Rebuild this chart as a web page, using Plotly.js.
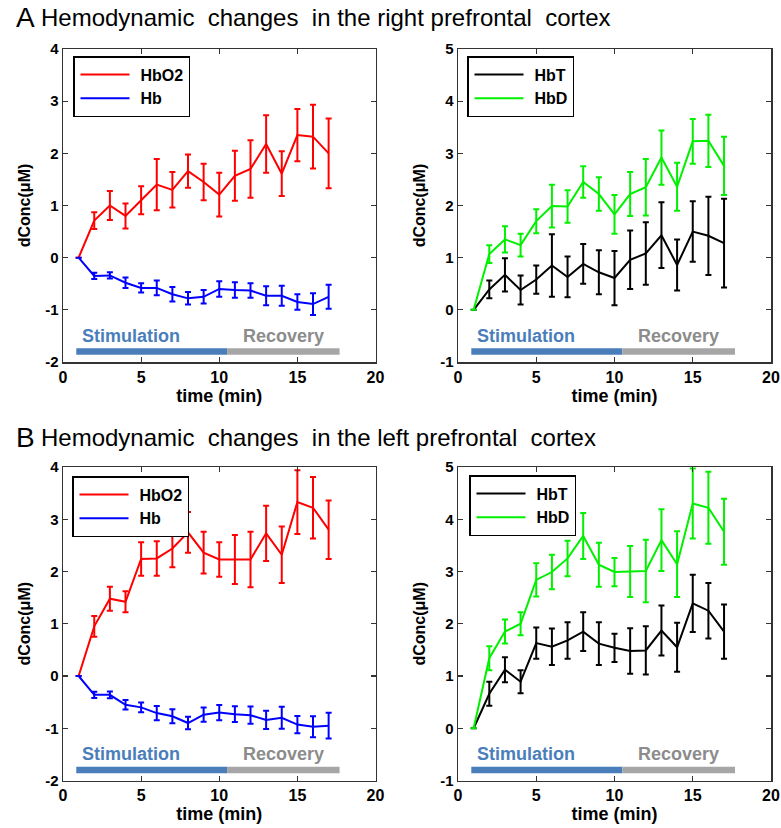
<!DOCTYPE html>
<html>
<head>
<meta charset="utf-8">
<script src="https://cdn.plot.ly/plotly-3.0.1.min.js"></script>
<style>html,body{margin:0;padding:0;background:#fff;}#chart{width:781px;height:828px;}</style>
</head>
<body>
<div id="chart"></div>
<script>
// ---------- data ----------
const time = [1,2,3,4,5,6,7,8,9,10,11,12,13,14,15,16,17];

// A: right prefrontal cortex
const hbo2Right    = [0, 0.71, 1.00, 0.80, 1.10, 1.40, 1.30, 1.66, 1.45, 1.21, 1.57, 1.70, 2.18, 1.61, 2.35, 2.32, 2.00];
const hbo2RightErr = [0, 0.16, 0.28, 0.24, 0.27, 0.49, 0.34, 0.32, 0.35, 0.42, 0.48, 0.55, 0.55, 0.43, 0.50, 0.61, 0.67];
const hbRight      = [0, -0.35, -0.34, -0.48, -0.58, -0.58, -0.70, -0.78, -0.75, -0.60, -0.62, -0.63, -0.73, -0.73, -0.85, -0.89, -0.75];
const hbRightErr   = [0, 0.06, 0.06, 0.10, 0.09, 0.14, 0.14, 0.12, 0.13, 0.15, 0.15, 0.14, 0.18, 0.19, 0.15, 0.21, 0.23];
const hbtRight     = [0, 0.39, 0.67, 0.38, 0.58, 0.85, 0.63, 0.88, 0.72, 0.61, 0.96, 1.08, 1.43, 0.86, 1.50, 1.42, 1.28];
const hbtRightErr  = [0, 0.17, 0.32, 0.28, 0.27, 0.60, 0.39, 0.38, 0.42, 0.52, 0.56, 0.60, 0.63, 0.49, 0.58, 0.75, 0.85];
const hbdRight     = [0, 1.07, 1.35, 1.24, 1.70, 1.99, 1.98, 2.45, 2.22, 1.83, 2.22, 2.35, 2.92, 2.36, 3.23, 3.24, 2.76];
const hbdRightErr  = [0, 0.17, 0.25, 0.22, 0.23, 0.41, 0.31, 0.30, 0.32, 0.37, 0.42, 0.54, 0.52, 0.46, 0.43, 0.50, 0.56];

// B: left prefrontal cortex
const hbo2Left     = [0, 0.95, 1.48, 1.42, 2.24, 2.25, 2.44, 2.75, 2.36, 2.23, 2.23, 2.23, 2.73, 2.32, 3.33, 3.22, 2.80];
const hbo2LeftErr  = [0, 0.20, 0.23, 0.20, 0.32, 0.33, 0.36, 0.39, 0.40, 0.33, 0.47, 0.53, 0.53, 0.54, 0.61, 0.59, 0.56];
const hbLeft       = [0, -0.36, -0.36, -0.55, -0.60, -0.71, -0.77, -0.90, -0.74, -0.70, -0.73, -0.75, -0.84, -0.80, -0.93, -0.97, -0.95];
const hbLeftErr    = [0, 0.06, 0.065, 0.09, 0.095, 0.135, 0.135, 0.12, 0.135, 0.145, 0.15, 0.165, 0.175, 0.21, 0.165, 0.20, 0.245];
const hbtLeft      = [0, 0.66, 1.12, 0.89, 1.63, 1.56, 1.68, 1.85, 1.62, 1.54, 1.48, 1.49, 1.87, 1.55, 2.39, 2.25, 1.85];
const hbtLeftErr   = [0, 0.23, 0.24, 0.22, 0.30, 0.35, 0.35, 0.37, 0.41, 0.27, 0.435, 0.46, 0.48, 0.47, 0.55, 0.53, 0.52];
const hbdLeft      = [0, 1.34, 1.85, 2.00, 2.84, 2.99, 3.25, 3.68, 3.13, 2.99, 3.00, 3.01, 3.60, 3.14, 4.30, 4.22, 3.76];
const hbdLeftErr   = [0, 0.23, 0.23, 0.22, 0.32, 0.33, 0.34, 0.44, 0.42, 0.27, 0.49, 0.60, 0.59, 0.63, 0.67, 0.69, 0.63];

// phases
const phaseNames = ['Stimulation', 'Recovery'];
const phaseStart = [0.85, 10.5];
const phaseEnd   = [10.5, 17.7];

// ticks
const xTicks = [0, 5, 10, 15, 20];
const yTicksLeft = [-2, -1, 0, 1, 2, 3, 4];
const yTicksRight = [-1, 0, 1, 2, 3, 4, 5];

const panelTitles = ['Hemodynamic  changes  in the right prefrontal  cortex',
                     'Hemodynamic  changes  in the left prefrontal  cortex'];
const panelLetters = ['A', 'B'];

// ---------- styling ----------
const FONT = 'Liberation Sans, Arial, Helvetica, sans-serif';
const W = 781, H = 828;
const phaseColors = ['#4a7ebb', '#a6a6a6'];
const phaseTextColors = ['#4a7ebb', '#8c8c8c'];
const GREEN = '#00f000';

function px2x(p){ return p / W; }
function px2y(p){ return 1 - p / H; }

const xDomL = [px2x(63), px2x(375.5)];
const xDomR = [px2x(458), px2x(771)];
const yDomA = [px2y(362), px2y(49)];
const yDomB = [px2y(780.5), px2y(467)];

function trace(y, err, name, color, xa, ya, legend){
  return {
    x: time, y: y, name: name, type: 'scatter', mode: 'lines',
    xaxis: xa, yaxis: ya, legend: legend,
    line: {color: color, width: 2},
    error_y: {type: 'data', array: err, visible: true, color: color, thickness: 2, width: 3}
  };
}

const data = [
  trace(hbo2Right, hbo2RightErr, 'HbO2', '#ff0000', 'x', 'y', 'legend'),
  trace(hbRight, hbRightErr, 'Hb', '#0000ff', 'x', 'y', 'legend'),
  trace(hbtRight, hbtRightErr, 'HbT', '#000000', 'x2', 'y2', 'legend2'),
  trace(hbdRight, hbdRightErr, 'HbD', GREEN, 'x2', 'y2', 'legend2'),
  trace(hbo2Left, hbo2LeftErr, 'HbO2', '#ff0000', 'x3', 'y3', 'legend3'),
  trace(hbLeft, hbLeftErr, 'Hb', '#0000ff', 'x3', 'y3', 'legend3'),
  trace(hbtLeft, hbtLeftErr, 'HbT', '#000000', 'x4', 'y4', 'legend4'),
  trace(hbdLeft, hbdLeftErr, 'HbD', GREEN, 'x4', 'y4', 'legend4')
];

function xAxis(domain, anchor){
  return {
    domain: domain, anchor: anchor, range: [0, 20],
    tickvals: xTicks, ticktext: xTicks.map(String),
    ticks: 'inside', ticklen: 5, tickwidth: 1.2, tickcolor: '#333',
    showline: true, linecolor: '#333', linewidth: 1.5, mirror: 'allticks',
    showgrid: false, zeroline: false,
    tickfont: {family: FONT, size: 16, weight: 'bold', color: '#000'},
    title: {text: 'time (min)', standoff: 4, font: {family: FONT, size: 18, weight: 'bold', color: '#000'}}
  };
}
function yAxis(domain, anchor, ticks){
  return {
    domain: domain, anchor: anchor, range: [ticks[0], ticks[ticks.length - 1]],
    tickvals: ticks, ticktext: ticks.map(String),
    ticks: 'inside', ticklen: 5, tickwidth: 1.2, tickcolor: '#333',
    showline: true, linecolor: '#333', linewidth: 1.5, mirror: 'allticks',
    showgrid: false, zeroline: false,
    tickfont: {family: FONT, size: 15, weight: 'bold', color: '#000'},
    title: {text: 'dConc(μM)', standoff: 10, font: {family: FONT, size: 16, weight: 'bold', color: '#000'}}
  };
}
function legendAt(xp, yp){
  return {
    x: px2x(xp), y: px2y(yp), xanchor: 'left', yanchor: 'top',
    bgcolor: '#fff', bordercolor: '#000', borderwidth: 1.5,
    traceorder: 'normal', itemwidth: 56,
    font: {family: FONT, size: 16, weight: 'bold', color: '#000'}
  };
}

const shapes = [];
const annotations = [];
const panels = [
  {xref: 'x', yref: 'y', base: -2},
  {xref: 'x2', yref: 'y2', base: -1},
  {xref: 'x3', yref: 'y3', base: -2},
  {xref: 'x4', yref: 'y4', base: -1}
];
panels.forEach(p => {
  phaseNames.forEach((nm, i) => {
    shapes.push({type: 'rect', xref: p.xref, yref: p.yref,
      x0: phaseStart[i], x1: phaseEnd[i], y0: p.base + 0.14, y1: p.base + 0.265,
      fillcolor: phaseColors[i], line: {width: 0}, layer: 'above'});
    annotations.push({xref: p.xref, yref: p.yref,
      x: (phaseStart[i] + phaseEnd[i]) / 2 + (i === 0 ? -1.3 : 0), y: p.base + 0.5,
      text: nm, showarrow: false, xanchor: 'center', yanchor: 'middle',
      font: {family: FONT, size: 18, weight: 'bold', color: phaseTextColors[i]}});
  });
});
[18, 437].forEach((yy, k) => {
  annotations.push({xref: 'paper', yref: 'paper', x: px2x(14), y: px2y(yy),
    xanchor: 'left', yanchor: 'middle', showarrow: false, text: panelLetters[k],
    font: {family: FONT, size: 28, color: '#000'}});
  annotations.push({xref: 'paper', yref: 'paper', x: px2x(39), y: px2y(yy),
    xanchor: 'left', yanchor: 'middle', showarrow: false, text: panelTitles[k],
    font: {family: FONT, size: 24, color: '#000'}});
});

const layout = {
  width: W, height: H,
  margin: {l: 0, r: 0, t: 0, b: 0},
  paper_bgcolor: '#fff', plot_bgcolor: '#fff',
  showlegend: true,
  xaxis: xAxis(xDomL, 'y'), yaxis: yAxis(yDomA, 'x', yTicksLeft),
  xaxis2: xAxis(xDomR, 'y2'), yaxis2: yAxis(yDomA, 'x2', yTicksRight),
  xaxis3: xAxis(xDomL, 'y3'), yaxis3: yAxis(yDomB, 'x3', yTicksLeft),
  xaxis4: xAxis(xDomR, 'y4'), yaxis4: yAxis(yDomB, 'x4', yTicksRight),
  legend: legendAt(73, 56), legend2: legendAt(467, 56),
  legend3: legendAt(72, 476), legend4: legendAt(469, 475),
  shapes: shapes, annotations: annotations
};

Plotly.newPlot('chart', data, layout, {staticPlot: true, displayModeBar: false}).then(gd => {
  // lengthen the legend sample lines to match the MATLAB-style legend
  gd.querySelectorAll('.legendlines path').forEach(p => p.setAttribute('d', 'M6,0h49'));
});
</script>
</body>
</html>
